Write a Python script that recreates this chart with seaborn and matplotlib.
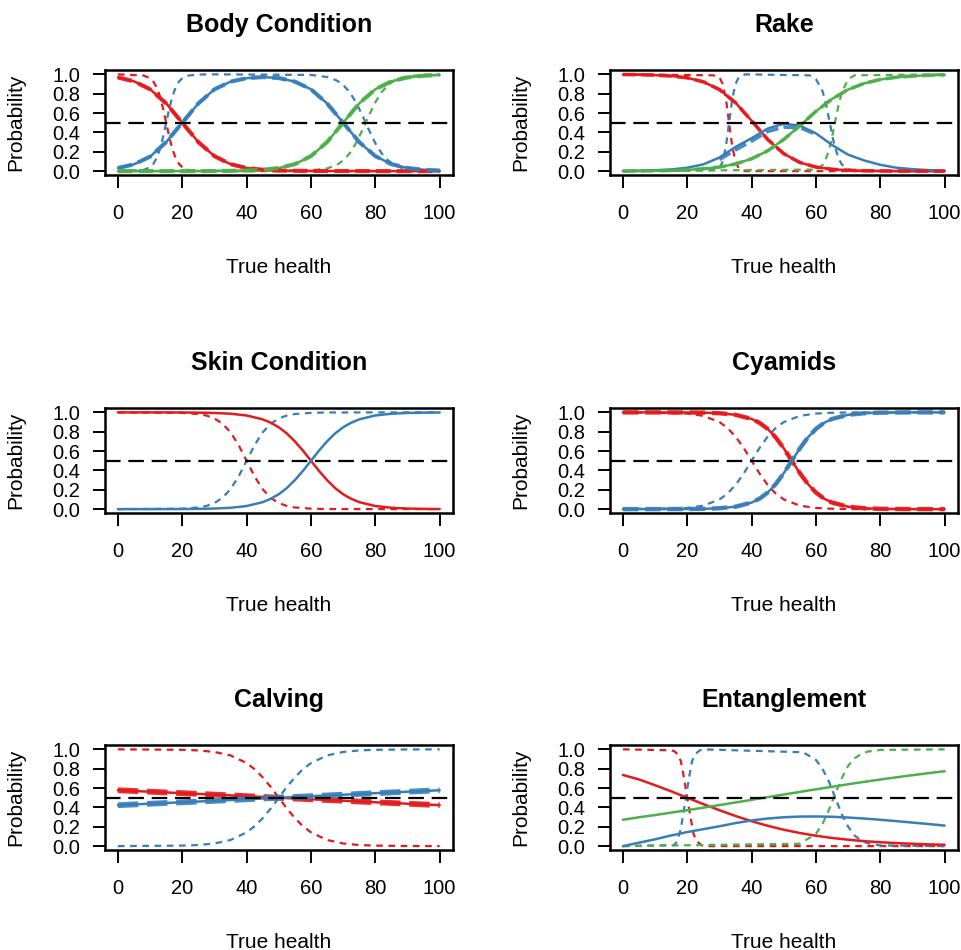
import matplotlib
matplotlib.use("Agg")
import matplotlib.pyplot as plt
import seaborn as sns

sns.set_style("ticks")
plt.rcParams['font.family'] = ['Liberation Sans', 'DejaVu Sans']
plt.rcParams['text.color'] = 'black'
plt.rcParams['axes.labelcolor'] = 'black'
plt.rcParams['xtick.color'] = 'black'
plt.rcParams['ytick.color'] = 'black'

RED = "#E41A1C"
BLUE = "#377EB8"
GREEN = "#4DAF4A"

X21 = [0, 5, 10, 15, 20, 25, 30, 35, 40, 45, 50, 55, 60, 65, 70, 75, 80, 85, 90, 95, 100]
X11 = [0, 10, 20, 30, 40, 50, 60, 70, 80, 90, 100]

# Body Condition
BODY_RED = [0.968, 0.928, 0.846, 0.70, 0.50, 0.30, 0.155, 0.072, 0.032, 0.014, 0.006,
            0.003, 0.002, 0.001, 0.001, 0.001, 0.0, 0.0, 0.0, 0.0, 0.0]
BODY_BLUE = [0.032, 0.07, 0.15, 0.30, 0.50, 0.70, 0.845, 0.925, 0.96, 0.972, 0.962,
             0.925, 0.846, 0.70, 0.50, 0.30, 0.155, 0.072, 0.032, 0.014, 0.006]
BODY_GREEN = [0.0, 0.0, 0.0, 0.0, 0.0, 0.0, 0.001, 0.003, 0.006, 0.014, 0.032,
              0.072, 0.155, 0.30, 0.50, 0.70, 0.846, 0.928, 0.968, 0.986, 0.994]
BODY_RED_TRUE_X = [0, 8, 10, 11, 12, 13, 14, 15, 16, 17, 18, 19, 20, 22, 25, 30, 100]
BODY_RED_TRUE = [1.0, 0.988, 0.959, 0.926, 0.869, 0.779, 0.652, 0.5, 0.348, 0.221, 0.131,
                 0.074, 0.041, 0.012, 0.002, 0.0, 0.0]
BODY_BLUE_TRUE_X = [0, 8, 10, 11, 12, 13, 14, 15, 16, 17, 18, 19, 20, 22, 25, 30,
                    60, 65, 68, 70, 72, 74, 76, 78, 80, 82, 84, 86, 88, 90, 95, 100]
BODY_BLUE_TRUE = [0.0, 0.012, 0.041, 0.074, 0.131, 0.221, 0.348, 0.5, 0.652, 0.779, 0.869,
                  0.926, 0.959, 0.988, 0.998, 1.0,
                  0.994, 0.973, 0.937, 0.891, 0.818, 0.711, 0.574, 0.426, 0.289, 0.182,
                  0.109, 0.063, 0.036, 0.02, 0.005, 0.001]
BODY_GREEN_TRUE_X = [0, 60, 65, 68, 70, 72, 74, 76, 78, 80, 82, 84, 86, 88, 90, 95, 100]
BODY_GREEN_TRUE = [0.0, 0.006, 0.027, 0.063, 0.109, 0.182, 0.289, 0.426, 0.574, 0.711,
                   0.818, 0.891, 0.937, 0.964, 0.98, 0.995, 0.999]

# Rake
RAKE_RED = [0.998, 0.997, 0.992, 0.983, 0.964, 0.923, 0.843, 0.707, 0.52, 0.327, 0.18,
            0.089, 0.042, 0.019, 0.009, 0.004, 0.002, 0.001, 0.0, 0.0, 0.0]
RAKE_BLUE = [0.001, 0.003, 0.008, 0.017, 0.035, 0.07, 0.14, 0.25, 0.34, 0.44, 0.49,
             0.47, 0.39, 0.27, 0.17, 0.11, 0.065, 0.035, 0.02, 0.01, 0.006]
RAKE_GREEN = [0.001, 0.002, 0.004, 0.007, 0.013, 0.024, 0.042, 0.074, 0.128, 0.21, 0.327,
              0.47, 0.618, 0.746, 0.843, 0.907, 0.947, 0.97, 0.983, 0.991, 0.995]
RAKE_BLUE_LOW_X = [30, 35, 40, 45, 50, 55, 60]
RAKE_BLUE_LOW = [0.12, 0.22, 0.31, 0.41, 0.455, 0.45, 0.38]
RAKE_RED_TRUE_X = [0, 28, 30, 31, 32, 33, 34, 35, 36, 38, 100]
RAKE_RED_TRUE = [1.0, 0.99, 0.97, 0.9, 0.75, 0.5, 0.25, 0.1, 0.03, 0.0, 0.0]
RAKE_BLUE_TRUE_X = [0, 28, 30, 31, 32, 33, 34, 35, 36, 38,
                    58, 60, 62, 63, 64.3, 65.5, 67, 68, 70, 72, 100]
RAKE_BLUE_TRUE = [0.0, 0.01, 0.03, 0.1, 0.25, 0.5, 0.75, 0.9, 0.97, 1.0,
                  0.99, 0.95, 0.83, 0.71, 0.5, 0.3, 0.13, 0.07, 0.02, 0.0, 0.0]
RAKE_GREEN_TRUE_X = [0, 60, 62, 63, 64, 65, 66, 67, 68, 70, 72, 100]
RAKE_GREEN_TRUE = [0.0, 0.016, 0.06, 0.12, 0.21, 0.35, 0.52, 0.68, 0.81, 0.95, 0.99, 1.0]

# Skin Condition
SKIN_X = [0, 10, 20, 25, 30, 35, 40, 45, 47.5, 50, 52.5, 55, 57.5, 60, 62.5, 65, 67.5,
          70, 72.5, 75, 80, 85, 90, 95, 100]
SKIN_RED = [1.0, 1.0, 0.999, 0.997, 0.994, 0.986, 0.968, 0.928, 0.893, 0.846, 0.782,
            0.70, 0.605, 0.5, 0.395, 0.30, 0.218, 0.154, 0.107, 0.072, 0.032, 0.014,
            0.006, 0.003, 0.001]
SKIN_BLUE = [0.0, 0.0, 0.001, 0.003, 0.006, 0.014, 0.032, 0.072, 0.107, 0.154, 0.218,
             0.30, 0.395, 0.5, 0.605, 0.70, 0.782, 0.846, 0.893, 0.928, 0.968, 0.986,
             0.994, 0.997, 0.999]
SKIN_TRUE_X = [0, 20, 25, 27.5, 30, 32.5, 35, 37.5, 40, 42.5, 45, 47.5, 50, 52.5, 55, 60, 65, 100]
SKIN_RED_TRUE = [1.0, 0.995, 0.983, 0.967, 0.937, 0.883, 0.794, 0.663, 0.5, 0.337, 0.206,
                 0.117, 0.063, 0.033, 0.017, 0.005, 0.001, 0.0]
SKIN_BLUE_TRUE = [0.0, 0.005, 0.017, 0.033, 0.063, 0.117, 0.206, 0.337, 0.5, 0.663, 0.794,
                  0.883, 0.937, 0.967, 0.983, 0.995, 0.999, 1.0]

# Cyamids
CYAM_X = [0, 10, 20, 25, 30, 35, 40, 42.5, 45, 47.5, 50, 52.5, 55, 57.5, 60, 62.5, 65,
          70, 75, 80, 90, 100]
CYAM_RED = [1.0, 1.0, 0.999, 0.997, 0.991, 0.975, 0.932, 0.891, 0.829, 0.741, 0.628, 0.5,
            0.372, 0.259, 0.171, 0.109, 0.068, 0.025, 0.009, 0.003, 0.0, 0.0]
CYAM_BLUE = [0.0, 0.0, 0.001, 0.003, 0.009, 0.025, 0.068, 0.109, 0.171, 0.259, 0.372, 0.5,
             0.628, 0.741, 0.829, 0.891, 0.932, 0.975, 0.991, 0.997, 1.0, 1.0]
CYAM_TRUE_X = [0, 20, 25, 30, 32.5, 35, 37.5, 40, 42.5, 45, 47.5, 50, 55, 60, 65, 70, 100]
CYAM_RED_TRUE = [1.0, 0.988, 0.964, 0.90, 0.839, 0.75, 0.634, 0.5, 0.366, 0.25, 0.161,
                 0.10, 0.036, 0.012, 0.004, 0.001, 0.0]
CYAM_BLUE_TRUE = [0.0, 0.012, 0.036, 0.10, 0.161, 0.25, 0.366, 0.5, 0.634, 0.75, 0.839,
                  0.90, 0.964, 0.988, 0.996, 0.999, 1.0]

# Calving
CALV_RED = [0.577, 0.562, 0.547, 0.532, 0.516, 0.5, 0.484, 0.469, 0.453, 0.438, 0.423]
CALV_BLUE = [0.423, 0.438, 0.453, 0.468, 0.484, 0.5, 0.516, 0.531, 0.547, 0.562, 0.577]
CALV_TRUE_X = [0, 20, 25, 30, 35, 40, 42.5, 45, 47.5, 50, 52.5, 55, 57.5, 60, 65, 70, 75, 80, 90, 100]
CALV_RED_TRUE = [1.0, 0.995, 0.989, 0.973, 0.937, 0.858, 0.794, 0.711, 0.611, 0.5, 0.389,
                 0.289, 0.206, 0.142, 0.063, 0.027, 0.011, 0.005, 0.001, 0.0]
CALV_BLUE_TRUE = [0.0, 0.005, 0.011, 0.027, 0.063, 0.142, 0.206, 0.289, 0.389, 0.5, 0.611,
                  0.711, 0.794, 0.858, 0.937, 0.973, 0.989, 0.995, 0.999, 1.0]

# Entanglement
ENT_RED = [0.735, 0.689, 0.629, 0.566, 0.5, 0.434, 0.371, 0.311, 0.257, 0.21, 0.169,
           0.135, 0.107, 0.084, 0.066, 0.051, 0.04, 0.031, 0.024, 0.018, 0.014]
ENT_BLUE = [0.0, 0.035, 0.07, 0.11, 0.145, 0.175, 0.205, 0.238, 0.265, 0.285, 0.298,
            0.305, 0.306, 0.303, 0.295, 0.285, 0.272, 0.258, 0.243, 0.228, 0.212]
ENT_GREEN = [0.272, 0.298, 0.321, 0.346, 0.371, 0.397, 0.424, 0.451, 0.478, 0.506, 0.533,
             0.56, 0.587, 0.613, 0.639, 0.664, 0.688, 0.711, 0.733, 0.754, 0.774]
ENT_RED_TRUE_X = [0, 15, 16, 17, 18, 19, 20, 21, 22, 23, 24, 25, 100]
ENT_RED_TRUE = [1.0, 0.99, 0.98, 0.95, 0.88, 0.7, 0.5, 0.3, 0.12, 0.05, 0.02, 0.0, 0.0]
ENT_BLUE_TRUE_X = [0, 16, 17, 18, 19, 19.6, 20.5, 21.5, 22.5, 23.5, 24.5,
                   56, 60, 62, 64, 66, 68, 70, 72, 74, 76, 80, 100]
ENT_BLUE_TRUE = [0.0, 0.01, 0.06, 0.18, 0.38, 0.5, 0.7, 0.88, 0.95, 0.98, 1.0,
                 0.97, 0.89, 0.8, 0.67, 0.5, 0.33, 0.2, 0.11, 0.057, 0.03, 0.007, 0.0]
ENT_GREEN_TRUE_X = [0, 55, 60, 62, 64, 66, 68, 70, 72, 74, 76, 80, 100]
ENT_GREEN_TRUE = [0.0, 0.024, 0.127, 0.227, 0.372, 0.54, 0.7, 0.83, 0.907, 0.95, 0.976, 0.994, 1.0]

# (title, solid estimates, dotted true curves, dashed interval lines, interval width)
PANELS = [
    ("Body Condition",
     [(X21, BODY_RED, RED), (X21, BODY_BLUE, BLUE), (X21, BODY_GREEN, GREEN)],
     [(BODY_RED_TRUE_X, BODY_RED_TRUE, RED), (BODY_BLUE_TRUE_X, BODY_BLUE_TRUE, BLUE),
      (BODY_GREEN_TRUE_X, BODY_GREEN_TRUE, GREEN)],
     [(X21, BODY_RED, RED), (X21, BODY_BLUE, BLUE), (X21, BODY_GREEN, GREEN)], 3.0),
    ("Rake",
     [(X21, RAKE_RED, RED), (X21, RAKE_BLUE, BLUE), (X21, RAKE_GREEN, GREEN)],
     [(RAKE_RED_TRUE_X, RAKE_RED_TRUE, RED), (RAKE_BLUE_TRUE_X, RAKE_BLUE_TRUE, BLUE),
      (RAKE_GREEN_TRUE_X, RAKE_GREEN_TRUE, GREEN)],
     [(X21, RAKE_RED, RED), (RAKE_BLUE_LOW_X, RAKE_BLUE_LOW, BLUE), (X21, RAKE_GREEN, GREEN)], 2.6),
    ("Skin Condition",
     [(SKIN_X, SKIN_RED, RED), (SKIN_X, SKIN_BLUE, BLUE)],
     [(SKIN_TRUE_X, SKIN_RED_TRUE, RED), (SKIN_TRUE_X, SKIN_BLUE_TRUE, BLUE)],
     [], 0),
    ("Cyamids",
     [(CYAM_X, CYAM_RED, RED), (CYAM_X, CYAM_BLUE, BLUE)],
     [(CYAM_TRUE_X, CYAM_RED_TRUE, RED), (CYAM_TRUE_X, CYAM_BLUE_TRUE, BLUE)],
     [(CYAM_X, CYAM_RED, RED), (CYAM_X, CYAM_BLUE, BLUE)], 3.2),
    ("Calving",
     [(X11, CALV_RED, RED), (X11, CALV_BLUE, BLUE)],
     [(CALV_TRUE_X, CALV_RED_TRUE, RED), (CALV_TRUE_X, CALV_BLUE_TRUE, BLUE)],
     [(X11, CALV_RED, RED), (X11, CALV_BLUE, BLUE)], 4.2),
    ("Entanglement",
     [(X21, ENT_RED, RED), (X21, ENT_BLUE, BLUE), (X21, ENT_GREEN, GREEN)],
     [(ENT_RED_TRUE_X, ENT_RED_TRUE, RED), (ENT_BLUE_TRUE_X, ENT_BLUE_TRUE, BLUE),
      (ENT_GREEN_TRUE_X, ENT_GREEN_TRUE, GREEN)],
     [], 0),
]

fig = plt.figure(figsize=(9.61, 9.5), dpi=100)

# axes boxes (left, bottom) in figure fractions, R-style mfrow layout
LEFTS = [0.1093, 0.6348]
BOTTOMS = [0.8158, 0.4600, 0.1053]
W, H = 0.3616, 0.1100

for i, (title, solids, trues, bands, band_lw) in enumerate(PANELS):
    ax = fig.add_axes([LEFTS[i % 2], BOTTOMS[i // 2], W, H])

    for x, y, c in trues:
        sns.lineplot(x=x, y=y, ax=ax, color=c, lw=1.6, linestyle=(0, (3, 2.5)))
    for x, y, c in solids:
        sns.lineplot(x=x, y=y, ax=ax, color=c, lw=1.8)
    for x, y, c in bands:
        sns.lineplot(x=x, y=y, ax=ax, color=c, lw=band_lw, linestyle=(0, (3.5, 1.5)), alpha=0.9)

    ax.axhline(0.5, color="black", lw=1.6, linestyle=(0, (7, 3.5)), zorder=10)

    ax.set_xlim(-4, 104)
    ax.set_ylim(-0.04, 1.04)
    ax.set_xticks([0, 20, 40, 60, 80, 100])
    ax.set_yticks([0.0, 0.2, 0.4, 0.6, 0.8, 1.0])
    ax.set_yticklabels(["0.0", "0.2", "0.4", "0.6", "0.8", "1.0"])
    ax.tick_params(axis="both", direction="out", length=9, width=1.4,
                   labelsize=14.5, color="black", labelcolor="black")
    ax.tick_params(axis="x", pad=12)
    ax.tick_params(axis="y", pad=9)
    for sp in ax.spines.values():
        sp.set_visible(True)
        sp.set_linewidth(1.8)
        sp.set_color("black")

    ax.set_title(title, fontsize=18, fontweight="bold", pad=28, color="black")
    ax.set_xlabel("True health", fontsize=15)
    ax.set_ylabel("Probability", fontsize=15)
    ax.xaxis.set_label_coords(0.5, -0.79)
    ax.yaxis.set_label_coords(-0.23, 0.5)

fig.savefig("out.png", dpi=100)
